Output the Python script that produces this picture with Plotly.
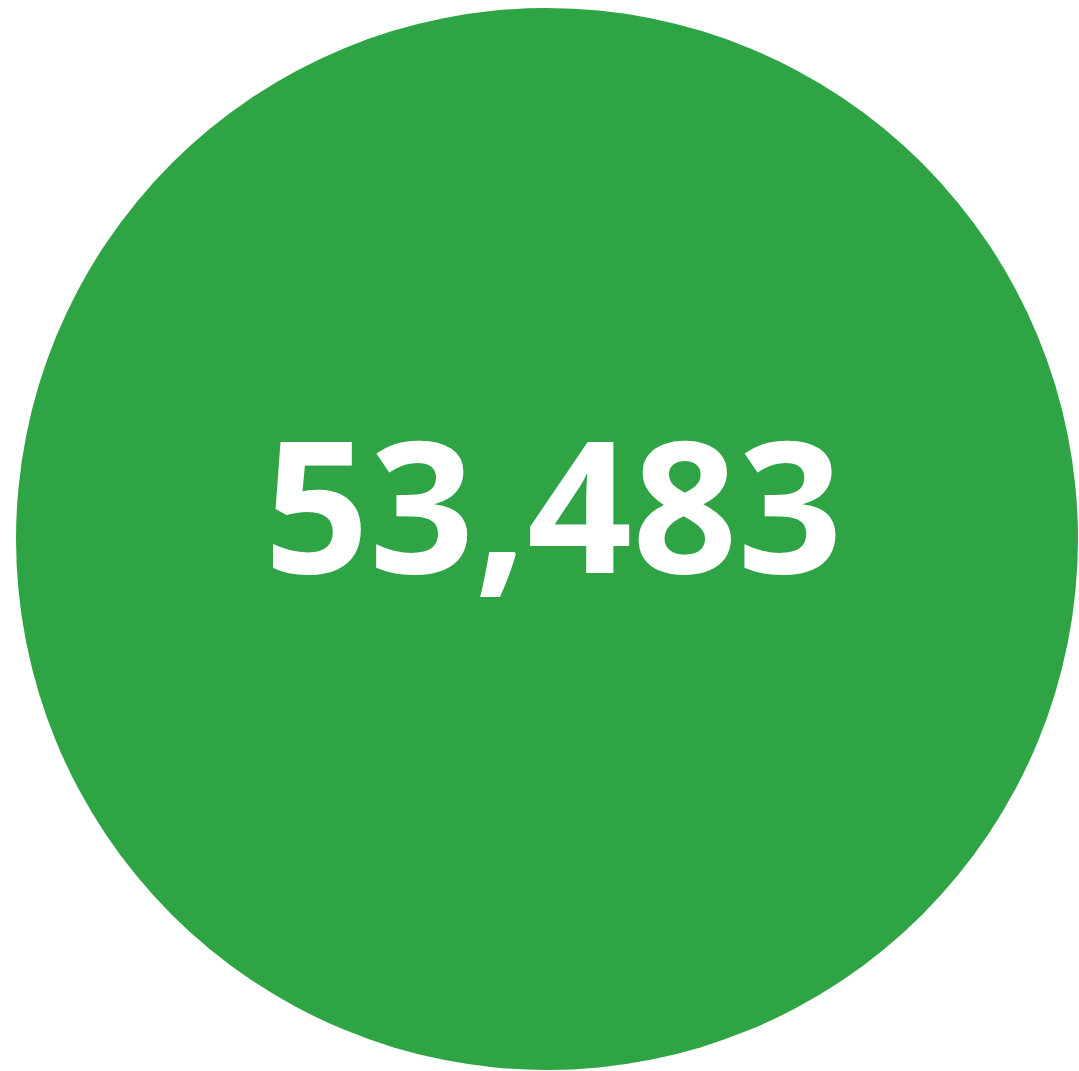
import plotly.graph_objects as go

labels = ["Total"]
values = [53483]
colors = ["#2fa445"]

W, H = 1079, 1071
cx, cy, r = 547, 539, 531
fig = go.Figure()
fig.add_trace(go.Pie(
    labels=labels, values=values, marker=dict(colors=colors, line=dict(width=0)),
    textinfo="none", hoverinfo="label+value", sort=False, showlegend=False,
    domain=dict(x=[(cx - r) / W, min(1, (cx + r) / W)],
                y=[max(0, (H - cy - r) / H), min(1, (H - cy + r) / H)]),
))
fig.add_annotation(
    text=f"{values[0]:,}", x=553 / W, y=(H - 501) / H, xref="paper", yref="paper",
    xanchor="center", yanchor="middle", showarrow=False,
    font=dict(family="Noto Sans", size=184, color="white", weight=700),
)
fig.update_layout(width=W, height=H, margin=dict(l=0, r=0, t=0, b=0),
                  paper_bgcolor="white", plot_bgcolor="white")
fig.write_html("out.html", config={"displayModeBar": False},
               post_script="document.body.style.margin='0';document.body.style.overflow='hidden';")
